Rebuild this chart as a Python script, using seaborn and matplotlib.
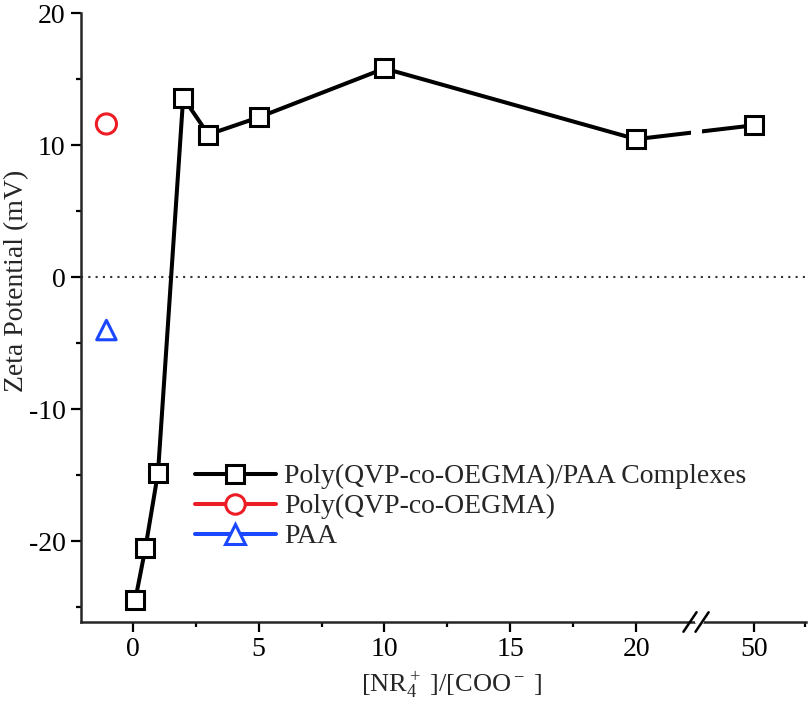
"""Zeta potential of Poly(QVP-co-OEGMA)/PAA complexes vs. charge ratio."""
import matplotlib.pyplot as plt
import numpy as np
import seaborn as sns
from matplotlib.lines import Line2D
from matplotlib.transforms import Bbox, TransformedBbox, blended_transform_factory

# charge ratio [NR4+]/[COO-] and measured zeta potential (mV)
ratio = [0.1, 0.5, 1, 2, 3, 5, 10, 20, 50]
zeta = [-24.4, -20.5, -14.8, 13.6, 10.8, 12.1, 15.8, 10.45, 11.5]

# homopolymer references, plotted left of 0
poly_x = [-1.05]
poly_zeta = [11.6]
paa_x = [-1.05]
paa_zeta = [-4.0]

x_ticks = [0, 5, 10, 15, 20, 50]
series_labels = [
    "Poly(QVP-co-OEGMA)/PAA Complexes",
    "Poly(QVP-co-OEGMA)",
    "PAA",
]

# broken axis: values above the break are shifted to the left
BREAK_AT = 20
SHIFT = 25.32


def to_pos(x):
    x = np.asarray(x, dtype=float)
    return np.where(x > BREAK_AT, x - SHIFT, x)


sns.set_style("ticks")
plt.rcParams["font.family"] = ["Liberation Serif", "DejaVu Serif"]
plt.rcParams["mathtext.fontset"] = "custom"
plt.rcParams["mathtext.rm"] = "Liberation Serif"
plt.rcParams["mathtext.it"] = "Liberation Serif:italic"
plt.rcParams["axes.unicode_minus"] = False

fig = plt.figure(figsize=(8.08, 7.10), dpi=100)
ax = fig.add_axes([81 / 808, 1 - 622 / 710, 725 / 808, 609 / 710])

red = "#ee1c25"
blue = "#1a47ff"
line_kw = dict(color="black", linewidth=2.9, marker="s", markersize=13,
               markerfacecolor="white", markeredgecolor="black",
               markeredgewidth=2.2, zorder=4)

# zero reference line
ax.axhline(0, color="#333333", linewidth=1.5, linestyle=(0, (1, 2.5)), zorder=1)

# main series drawn twice, each clipped to one side of the axis break
gap = (22.18, 22.62)
pos = to_pos(ratio)
for lo, hi in [(-5, gap[0]), (gap[1], 40)]:
    sns.lineplot(x=pos, y=zeta, ax=ax, legend=False, **line_kw)
    ln = ax.lines[-1]
    ln.set_clip_box(TransformedBbox(Bbox([[lo, -100], [hi, 100]]), ax.transData))

sns.scatterplot(x=poly_x, y=poly_zeta, ax=ax, marker="o", s=14.5 ** 2,
                facecolor="none", edgecolor=red, linewidth=2.2, zorder=5)
sns.scatterplot(x=paa_x, y=paa_zeta, ax=ax, marker="^", s=14 ** 2,
                facecolor="none", edgecolor=blue, linewidth=2.2, zorder=5)

ax.set_xlim(-2.06, 26.75)
ax.set_ylim(-26.1, 20)
ax.set_xticks(to_pos(x_ticks))
ax.set_xticklabels([str(t) for t in x_ticks])
ax.set_xticks([2.5, 7.5, 12.5, 17.5, 26.7], minor=True)
ax.set_yticks([-20, -10, 0, 10, 20])
ax.set_yticks([-25, -15, -5, 5, 15], minor=True)

for side in ["top", "right"]:
    ax.spines[side].set_visible(False)
for side in ["left", "bottom"]:
    ax.spines[side].set_linewidth(1.8)
ax.tick_params(which="major", length=7, width=1.6, labelsize=20, pad=4,
               color="black", labelcolor="black")
ax.tick_params(which="minor", length=3.5, width=1.6, color="black")

# break marks on the x axis
trans = blended_transform_factory(ax.transData, ax.transAxes)
ax.plot([22.43, 22.62], [0, 0], color="white", linewidth=3,
        transform=trans, clip_on=False, zorder=6)
for cx in (22.14, 22.62):
    ax.plot([cx - 0.26, cx + 0.26], [-0.016, 0.016], color="black",
            linewidth=1.8, transform=trans, clip_on=False, zorder=7)

ax.set_xlabel(r"[NR$_4^+$ ]/[COO$^-$ ]", fontsize=19)
ax.xaxis.set_label_coords((452 - 81) / 725, -0.077)
ax.xaxis.label.set_verticalalignment("top")
ax.set_ylabel("Zeta Potential (mV)", fontsize=20)
ax.yaxis.set_label_coords((29 - 81) / 725, 1 - (281 - 13) / 609)

handles = [
    Line2D([], [], **{k: v for k, v in line_kw.items() if k != "zorder"}),
    Line2D([], [], color=red, linewidth=2.9, marker="o", markersize=14,
           markerfacecolor="white", markeredgecolor=red, markeredgewidth=2.2),
    Line2D([], [], color=blue, linewidth=2.9, marker="^", markersize=14,
           markerfacecolor="white", markeredgecolor=blue, markeredgewidth=2.2),
]
ax.legend(handles, series_labels, loc="upper left", frameon=False,
          bbox_to_anchor=(195 / 808, (710 - 464) / 710),
          bbox_transform=fig.transFigure, fontsize=20, handlelength=2.9,
          handletextpad=0.3, labelspacing=0.16, borderpad=0, borderaxespad=0)

fig.savefig("out.png", dpi=100)
